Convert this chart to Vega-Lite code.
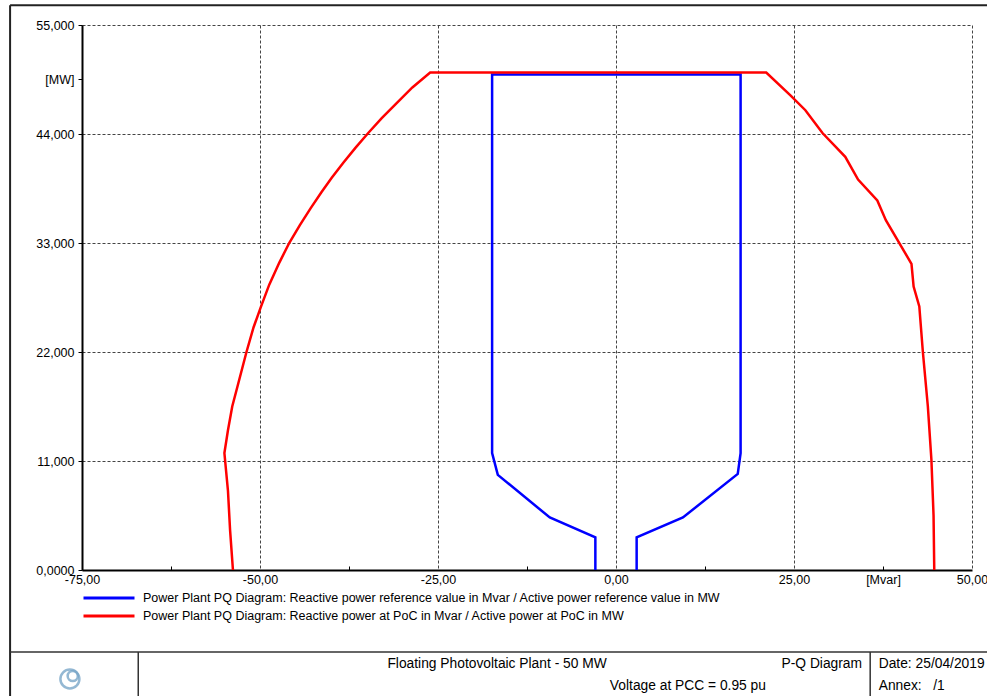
{
  "$schema": "https://vega.github.io/schema/vega-lite/v6.json",
  "width": 890,
  "height": 545,
  "autosize": {"type": "none"},
  "padding": {"left": 82, "top": 25, "right": 15, "bottom": 126},
  "background": "white",
  "config": {
    "view": {"stroke": null},
    "font": "Liberation Sans",
    "axis": {
      "labelFont": "Liberation Sans",
      "labelFontSize": 12.5,
      "labelColor": "#000000",
      "domainColor": "#000000",
      "domainWidth": 2,
      "tickColor": "#000000",
      "tickWidth": 1,
      "gridColor": "#444444",
      "gridDash": [3, 2],
      "gridWidth": 1,
      "labelOverlap": false,
      "labelFlush": false
    }
  },
  "datasets": {
    "pq": [
      {"series": "Power Plant PQ Diagram: Reactive power reference value in Mvar / Active power reference value in MW", "i": 0, "q": -2.9, "p": 0},
      {"series": "Power Plant PQ Diagram: Reactive power reference value in Mvar / Active power reference value in MW", "i": 1, "q": -2.9, "p": 3.3},
      {"series": "Power Plant PQ Diagram: Reactive power reference value in Mvar / Active power reference value in MW", "i": 2, "q": -9.3, "p": 5.3},
      {"series": "Power Plant PQ Diagram: Reactive power reference value in Mvar / Active power reference value in MW", "i": 3, "q": -16.6, "p": 9.6},
      {"series": "Power Plant PQ Diagram: Reactive power reference value in Mvar / Active power reference value in MW", "i": 4, "q": -17.4, "p": 11.8},
      {"series": "Power Plant PQ Diagram: Reactive power reference value in Mvar / Active power reference value in MW", "i": 5, "q": -17.4, "p": 50.0},
      {"series": "Power Plant PQ Diagram: Reactive power reference value in Mvar / Active power reference value in MW", "i": 6, "q": 17.5, "p": 50.0},
      {"series": "Power Plant PQ Diagram: Reactive power reference value in Mvar / Active power reference value in MW", "i": 7, "q": 17.5, "p": 11.8},
      {"series": "Power Plant PQ Diagram: Reactive power reference value in Mvar / Active power reference value in MW", "i": 8, "q": 17.1, "p": 9.7},
      {"series": "Power Plant PQ Diagram: Reactive power reference value in Mvar / Active power reference value in MW", "i": 9, "q": 9.4, "p": 5.3},
      {"series": "Power Plant PQ Diagram: Reactive power reference value in Mvar / Active power reference value in MW", "i": 10, "q": 2.9, "p": 3.3},
      {"series": "Power Plant PQ Diagram: Reactive power reference value in Mvar / Active power reference value in MW", "i": 11, "q": 2.9, "p": 0},
      {"series": "Power Plant PQ Diagram: Reactive power at PoC in Mvar / Active power at PoC in MW", "i": 0, "q": -53.8, "p": 0},
      {"series": "Power Plant PQ Diagram: Reactive power at PoC in Mvar / Active power at PoC in MW", "i": 1, "q": -54.2, "p": 4},
      {"series": "Power Plant PQ Diagram: Reactive power at PoC in Mvar / Active power at PoC in MW", "i": 2, "q": -54.5, "p": 8},
      {"series": "Power Plant PQ Diagram: Reactive power at PoC in Mvar / Active power at PoC in MW", "i": 3, "q": -55.0, "p": 11.8},
      {"series": "Power Plant PQ Diagram: Reactive power at PoC in Mvar / Active power at PoC in MW", "i": 4, "q": -54.5, "p": 14.1},
      {"series": "Power Plant PQ Diagram: Reactive power at PoC in Mvar / Active power at PoC in MW", "i": 5, "q": -53.9, "p": 16.5},
      {"series": "Power Plant PQ Diagram: Reactive power at PoC in Mvar / Active power at PoC in MW", "i": 6, "q": -53.1, "p": 18.7},
      {"series": "Power Plant PQ Diagram: Reactive power at PoC in Mvar / Active power at PoC in MW", "i": 7, "q": -51.9, "p": 22.0},
      {"series": "Power Plant PQ Diagram: Reactive power at PoC in Mvar / Active power at PoC in MW", "i": 8, "q": -50.9, "p": 24.5},
      {"series": "Power Plant PQ Diagram: Reactive power at PoC in Mvar / Active power at PoC in MW", "i": 9, "q": -49.9, "p": 26.5},
      {"series": "Power Plant PQ Diagram: Reactive power at PoC in Mvar / Active power at PoC in MW", "i": 10, "q": -48.7, "p": 28.8},
      {"series": "Power Plant PQ Diagram: Reactive power at PoC in Mvar / Active power at PoC in MW", "i": 11, "q": -47.3, "p": 31.0},
      {"series": "Power Plant PQ Diagram: Reactive power at PoC in Mvar / Active power at PoC in MW", "i": 12, "q": -45.9, "p": 33.0},
      {"series": "Power Plant PQ Diagram: Reactive power at PoC in Mvar / Active power at PoC in MW", "i": 13, "q": -44.4, "p": 34.8},
      {"series": "Power Plant PQ Diagram: Reactive power at PoC in Mvar / Active power at PoC in MW", "i": 14, "q": -42.9, "p": 36.5},
      {"series": "Power Plant PQ Diagram: Reactive power at PoC in Mvar / Active power at PoC in MW", "i": 15, "q": -41.4, "p": 38.1},
      {"series": "Power Plant PQ Diagram: Reactive power at PoC in Mvar / Active power at PoC in MW", "i": 16, "q": -39.9, "p": 39.6},
      {"series": "Power Plant PQ Diagram: Reactive power at PoC in Mvar / Active power at PoC in MW", "i": 17, "q": -38.3, "p": 41.1},
      {"series": "Power Plant PQ Diagram: Reactive power at PoC in Mvar / Active power at PoC in MW", "i": 18, "q": -36.6, "p": 42.6},
      {"series": "Power Plant PQ Diagram: Reactive power at PoC in Mvar / Active power at PoC in MW", "i": 19, "q": -34.8, "p": 44.1},
      {"series": "Power Plant PQ Diagram: Reactive power at PoC in Mvar / Active power at PoC in MW", "i": 20, "q": -32.9, "p": 45.6},
      {"series": "Power Plant PQ Diagram: Reactive power at PoC in Mvar / Active power at PoC in MW", "i": 21, "q": -30.7, "p": 47.2},
      {"series": "Power Plant PQ Diagram: Reactive power at PoC in Mvar / Active power at PoC in MW", "i": 22, "q": -28.6, "p": 48.7},
      {"series": "Power Plant PQ Diagram: Reactive power at PoC in Mvar / Active power at PoC in MW", "i": 23, "q": -26.1, "p": 50.2},
      {"series": "Power Plant PQ Diagram: Reactive power at PoC in Mvar / Active power at PoC in MW", "i": 24, "q": 21.1, "p": 50.2},
      {"series": "Power Plant PQ Diagram: Reactive power at PoC in Mvar / Active power at PoC in MW", "i": 25, "q": 24.5, "p": 47.9},
      {"series": "Power Plant PQ Diagram: Reactive power at PoC in Mvar / Active power at PoC in MW", "i": 26, "q": 26.6, "p": 46.4},
      {"series": "Power Plant PQ Diagram: Reactive power at PoC in Mvar / Active power at PoC in MW", "i": 27, "q": 29.0, "p": 44.1},
      {"series": "Power Plant PQ Diagram: Reactive power at PoC in Mvar / Active power at PoC in MW", "i": 28, "q": 32.2, "p": 41.7},
      {"series": "Power Plant PQ Diagram: Reactive power at PoC in Mvar / Active power at PoC in MW", "i": 29, "q": 34.0, "p": 39.4},
      {"series": "Power Plant PQ Diagram: Reactive power at PoC in Mvar / Active power at PoC in MW", "i": 30, "q": 36.7, "p": 37.3},
      {"series": "Power Plant PQ Diagram: Reactive power at PoC in Mvar / Active power at PoC in MW", "i": 31, "q": 37.9, "p": 35.3},
      {"series": "Power Plant PQ Diagram: Reactive power at PoC in Mvar / Active power at PoC in MW", "i": 32, "q": 41.5, "p": 30.9},
      {"series": "Power Plant PQ Diagram: Reactive power at PoC in Mvar / Active power at PoC in MW", "i": 33, "q": 41.8, "p": 28.6},
      {"series": "Power Plant PQ Diagram: Reactive power at PoC in Mvar / Active power at PoC in MW", "i": 34, "q": 42.6, "p": 26.6},
      {"series": "Power Plant PQ Diagram: Reactive power at PoC in Mvar / Active power at PoC in MW", "i": 35, "q": 43.1, "p": 22.0},
      {"series": "Power Plant PQ Diagram: Reactive power at PoC in Mvar / Active power at PoC in MW", "i": 36, "q": 43.8, "p": 16.5},
      {"series": "Power Plant PQ Diagram: Reactive power at PoC in Mvar / Active power at PoC in MW", "i": 37, "q": 44.3, "p": 11.1},
      {"series": "Power Plant PQ Diagram: Reactive power at PoC in Mvar / Active power at PoC in MW", "i": 38, "q": 44.6, "p": 5.5},
      {"series": "Power Plant PQ Diagram: Reactive power at PoC in Mvar / Active power at PoC in MW", "i": 39, "q": 44.7, "p": 0}
    ],
    "sheet_frame": [
      {"q": -85.1, "p": 57.0, "q2": 52.2, "p2": 57.0},
      {"q": -85.1, "p": 57.0, "q2": -85.1, "p2": -13.0}
    ],
    "title_block_lines": [
      {"q": -85.1, "p": -8.28, "q2": 52.2, "p2": -8.28},
      {"q": -67.1, "p": -8.28, "q2": -67.1, "p2": -13.0},
      {"q": 35.7, "p": -8.28, "q2": 35.7, "p2": -13.0}
    ],
    "title_block_centered": [
      {"q": -16.7, "p": -9.5, "label": "Floating Photovoltaic Plant - 50 MW"},
      {"q": 28.9, "p": -9.5, "label": "P-Q Diagram"},
      {"q": 10.1, "p": -11.7, "label": "Voltage at PCC = 0.95 pu"}
    ],
    "title_block_left": [
      {"q": 36.9, "p": -9.5, "label": "Date: 25/04/2019"},
      {"q": 36.9, "p": -11.7, "label": "Annex:\u00a0\u00a0 /1"}
    ],
    "logo": [
      {"q": -76.7, "p": -11.0, "r": 900},
      {"q": -76.3, "p": -10.7, "r": 250}
    ]
  },
  "layer": [
    {
      "data": {"name": "pq"},
      "mark": {"type": "line", "strokeWidth": 2.5, "clip": false},
      "encoding": {
        "x": {
          "field": "q",
          "type": "quantitative",
          "scale": {"domain": [-75, 50], "nice": false, "zero": false},
          "axis": {
            "title": null,
            "values": [-75, -62.5, -50, -37.5, -25, -12.5, 0, 12.5, 25, 37.5, 50],
            "labelExpr": "datum.value == 37.5 ? '[Mvar]' : (datum.value % 25 == 0 ? replace(replace(format(datum.value, '.2f'), '.', ','), '\u2212', '-') : '')",
            "grid": true,
            "gridOpacity": {"condition": {"test": "datum.value % 25 == 0", "value": 1}, "value": 0},
            "tickSize": -4,
            "tickOpacity": {"condition": {"test": "datum.value % 25 == 0", "value": 0}, "value": 1},
            "labelPadding": 7
          }
        },
        "y": {
          "field": "p",
          "type": "quantitative",
          "scale": {"domain": [0, 55], "nice": false, "zero": false},
          "axis": {
            "title": null,
            "values": [0, 11, 22, 33, 44, 49.5, 55],
            "labelExpr": "datum.value == 49.5 ? '[MW]' : (datum.value == 0 ? '0,0000' : replace(format(datum.value, '.3f'), '.', ','))",
            "grid": true,
            "gridOpacity": {"condition": {"test": "datum.value % 11 == 0", "value": 1}, "value": 0},
            "tickSize": 4,
            "labelPadding": 4
          }
        },
        "color": {
          "field": "series",
          "type": "nominal",
          "scale": {
            "domain": [
              "Power Plant PQ Diagram: Reactive power reference value in Mvar / Active power reference value in MW",
              "Power Plant PQ Diagram: Reactive power at PoC in Mvar / Active power at PoC in MW"
            ],
            "range": ["#0000ff", "#ff0000"]
          },
          "legend": {
            "title": null,
            "orient": "none",
            "legendX": 0,
            "legendY": 565,
            "padding": 0,
            "symbolType": "stroke",
            "symbolSize": 2601,
            "symbolStrokeWidth": 3,
            "clipHeight": 16,
            "rowPadding": 2,
            "labelOffset": 7,
            "labelFont": "Liberation Sans",
            "labelFontSize": 12.5,
            "labelColor": "#000000",
            "labelLimit": 0
          }
        },
        "order": {"field": "i", "type": "quantitative"}
      }
    },
    {
      "data": {"name": "sheet_frame"},
      "mark": {"type": "rule", "color": "#222222", "strokeWidth": 2, "clip": false},
      "encoding": {
        "x": {"field": "q", "type": "quantitative"},
        "y": {"field": "p", "type": "quantitative"},
        "x2": {"field": "q2"},
        "y2": {"field": "p2"}
      }
    },
    {
      "data": {"name": "title_block_lines"},
      "mark": {"type": "rule", "color": "#333333", "strokeWidth": 1.5, "clip": false},
      "encoding": {
        "x": {"field": "q", "type": "quantitative"},
        "y": {"field": "p", "type": "quantitative"},
        "x2": {"field": "q2"},
        "y2": {"field": "p2"}
      }
    },
    {
      "data": {"name": "title_block_centered"},
      "mark": {"type": "text", "font": "Liberation Sans", "fontSize": 13.8, "color": "#000000", "align": "center", "baseline": "middle", "clip": false},
      "encoding": {
        "x": {"field": "q", "type": "quantitative"},
        "y": {"field": "p", "type": "quantitative"},
        "text": {"field": "label"}
      }
    },
    {
      "data": {"name": "title_block_left"},
      "mark": {"type": "text", "font": "Liberation Sans", "fontSize": 13.8, "color": "#000000", "align": "left", "baseline": "middle", "clip": false},
      "encoding": {
        "x": {"field": "q", "type": "quantitative"},
        "y": {"field": "p", "type": "quantitative"},
        "text": {"field": "label"}
      }
    },
    {
      "data": {"name": "logo"},
      "mark": {"type": "point", "shape": "circle", "filled": false, "color": "#7aa7c9", "strokeWidth": 2.5, "opacity": 0.8, "clip": false},
      "encoding": {
        "x": {"field": "q", "type": "quantitative"},
        "y": {"field": "p", "type": "quantitative"},
        "size": {"field": "r", "type": "quantitative", "scale": {"type": "identity"}, "legend": null}
      }
    }
  ]
}
